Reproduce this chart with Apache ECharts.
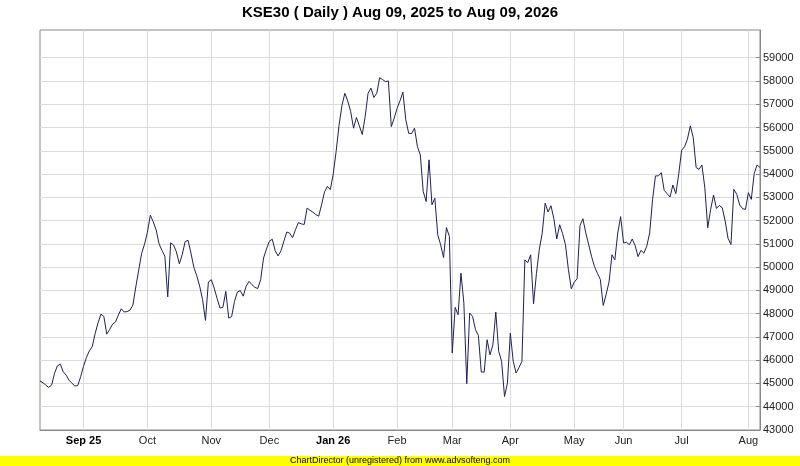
<!DOCTYPE html>
<html>
<head>
<meta charset="utf-8">
<script src="https://cdn.jsdelivr.net/npm/echarts@6/dist/echarts.min.js"></script>
<style>
  html, body { margin: 0; padding: 0; background: #fff; }
  #main { width: 800px; height: 466px; }
</style>
</head>
<body>
<div id="main"></div>
<script>
// daily close, one value per trading day (Aug 11 2025 .. Aug 07 2026)
const closeValues = [
  45110, 45030, 44930, 44830, 44930, 45430, 45760, 45830, 45500, 45360,
  45140, 45010, 44890, 44910, 45290, 45740, 46120, 46400, 46580, 47150,
  47610, 47980, 47880, 47120, 47320, 47550, 47640, 47940, 48210, 48070,
  48090, 48150, 48370, 49150, 49870, 50590, 50980, 51500, 52230, 51950,
  51600, 51000, 50720, 50470, 48720, 51040, 50950, 50650, 50140, 50540,
  51100, 51150, 50600, 49990, 49630, 49180, 48600, 47710, 49360, 49460,
  49100, 48650, 48240, 48270, 48960, 47810, 47870, 48530, 48930, 48990,
  48750, 49180, 49390, 49250, 49130, 49080, 49460, 50390, 50780, 51110,
  51200, 50710, 50480, 50700, 51110, 51510, 51460, 51260, 51610, 51910,
  51860, 51830, 52540, 52440, 52360, 52260, 52190, 52690, 53230, 53470,
  53330, 54000, 54970, 56090, 56940, 57470, 57140, 56690, 55970, 56430,
  56070, 55700, 56470, 57470, 57690, 57290, 57470, 58140, 58060, 57970,
  58000, 56040, 56400, 56830, 57150, 57520, 56330, 55750, 55740, 55970,
  55180, 54820, 53250, 52820, 54610, 52680, 52960, 51390, 50960, 50410,
  51700, 51320, 46310, 48270, 47950, 49740, 48450, 44990, 48030, 47880,
  47310, 47060, 45490, 45490, 46880, 46230, 46660, 48070, 46380, 45950,
  44440, 45010, 47160, 45950, 45450, 45690, 45950, 50310, 50190, 50530,
  48420, 49730, 50770, 51470, 52750, 52370, 52640, 52080, 51210, 51820,
  51440, 50960, 49900, 49070, 49350, 49500, 51790, 52080, 51470, 50960,
  50450, 50020, 49730, 49470, 48350, 48830, 49360, 50530, 50310, 51470,
  52170, 51040, 51070, 50960, 51210, 50920, 50450, 50720, 50600, 50900,
  51470, 52910, 53920, 53920, 54060, 53300, 53160, 53010, 53530, 53160,
  53990, 55020, 55170, 55500, 56070, 55570, 54280, 54200, 54390, 53410,
  51690, 52480, 53100, 52520, 52650, 52550, 51980, 51230, 50970, 53340,
  53130, 52670, 52510, 52480, 53200, 52910, 54020, 54390, 54280
];
const tradingDays = closeValues.map((v, i) => String(i));

// first trading day of each month (index into tradingDays) and its label
const monthStarts = [15, 37, 59, 79, 101, 123, 142, 162, 184, 201, 221, 244];
const monthLabels = ['Sep 25', 'Oct', 'Nov', 'Dec', 'Jan 26', 'Feb', 'Mar', 'Apr', 'May', 'Jun', 'Jul', 'Aug'];
const yearLabels = ['Sep 25', 'Jan 26'];

const yTicks = [43000, 44000, 45000, 46000, 47000, 48000, 49000, 50000, 51000,
  52000, 53000, 54000, 55000, 56000, 57000, 58000, 59000];

const font = 'Liberation Sans, Arial, sans-serif';
const chart = echarts.init(document.getElementById('main'));

const option = {
  animation: false,
  backgroundColor: '#fff',
  title: {
    text: 'KSE30 ( Daily ) Aug 09, 2025 to Aug 09, 2026',
    left: 'center',
    top: 0,
    textStyle: { fontFamily: font, fontSize: 15, fontWeight: 'bold', color: '#000' }
  },
  grid: {
    left: 40, top: 30, width: 720, height: 400,
    show: true, borderColor: '#888', borderWidth: 1, backgroundColor: '#fff'
  },
  xAxis: {
    type: 'category',
    data: tradingDays,
    boundaryGap: false,
    axisLine: { lineStyle: { color: '#888' } },
    axisTick: { show: false },
    axisLabel: {
      interval: (i) => monthStarts.includes(i),
      margin: 5,
      fontFamily: font,
      fontSize: 11,
      color: '#222',
      formatter: (v, i) => {
        const k = monthStarts.indexOf(i);
        if (k < 0) return '';
        const s = monthLabels[k];
        return yearLabels.includes(s) ? '{b|' + s + '}' : s;
      },
      rich: { b: { fontFamily: font, fontSize: 11, fontWeight: 'bold', color: '#000' } }
    },
    splitLine: {
      show: true,
      interval: (i) => monthStarts.includes(i),
      lineStyle: { color: '#dcdcdc', width: 1 }
    }
  },
  yAxis: {
    type: 'value',
    position: 'right',
    min: 43000,
    max: 60190,
    interval: 1000,
    axisLine: { show: true, lineStyle: { color: '#888' } },
    axisTick: { show: true, inside: true, length: 4, customValues: yTicks, lineStyle: { color: '#888' } },
    axisLabel: {
      customValues: yTicks, margin: 3, fontFamily: font, fontSize: 11, color: '#222',
      formatter: (v) => String(v)
    },
    splitLine: { show: true, lineStyle: { color: '#dcdcdc', width: 1 } }
  },
  series: [{
    type: 'line',
    data: closeValues,
    symbol: 'none',
    lineStyle: { color: '#1f1f5c', width: 1 },
    z: 5
  }],
  graphic: [
    { type: 'rect', left: 0, top: 456, shape: { width: 800, height: 10 }, style: { fill: '#ffff00' }, silent: true },
    {
      type: 'text', left: 'center', top: 456,
      style: { text: 'ChartDirector (unregistered) from www.advsofteng.com', fontFamily: font, fontSize: 9, fill: '#000' }
    }
  ]
};

option && chart.setOption(option);
</script>
</body>
</html>
